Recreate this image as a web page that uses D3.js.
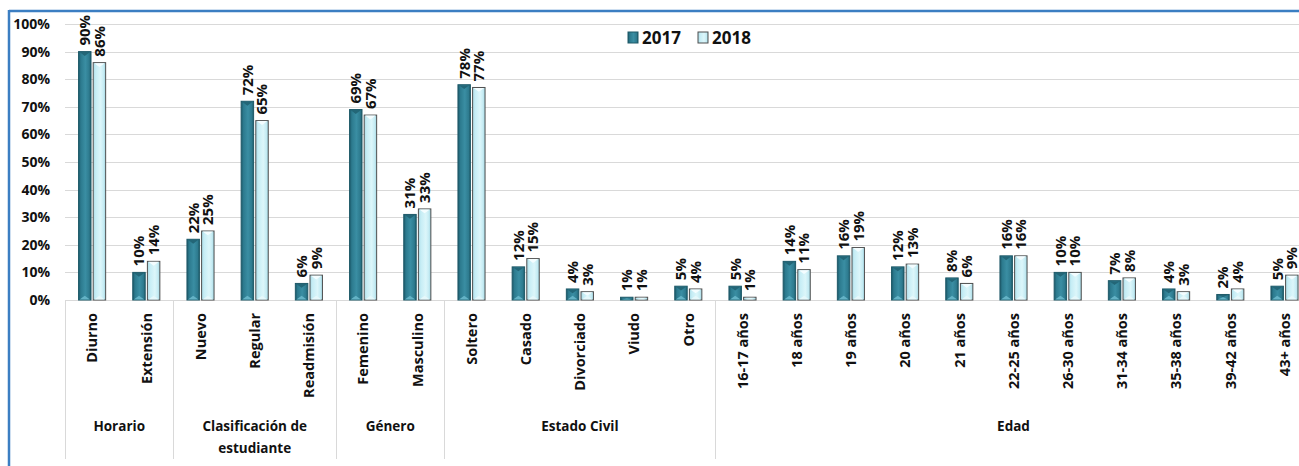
<!DOCTYPE html>
<html lang="es">
<head>
    <meta charset="UTF-8">
    <title>Estudiantes 2017 - 2018</title>
    <script src="https://cdn.jsdelivr.net/npm/d3@7"></script>
    <style>
        body {
            margin: 0;
            padding: 0;
            background: #ffffff;
        }
        text {
            font-family: "Open Sans", sans-serif;
            font-weight: bold;
            fill: #111;
        }
    </style>
</head>
<body>
<svg width="1299" height="466" id="mainsvg"></svg>
<script>
    // categorias y grupos
    const categories = ["Diurno", "Extensión", "Nuevo", "Regular", "Readmisión", "Femenino", "Masculino",
        "Soltero", "Casado", "Divorciado", "Viudo", "Otro",
        "16-17 años", "18 años", "19 años", "20 años", "21 años", "22-25 años", "26-30 años",
        "31-34 años", "35-38 años", "39-42 años", "43+ años"];
    const categoryGroup = [0, 0, 1, 1, 1, 2, 2, 3, 3, 3, 3, 3, 4, 4, 4, 4, 4, 4, 4, 4, 4, 4, 4];
    const groupLabels = ["Horario", "Clasificación de\nestudiante", "Género", "Estado Civil", "Edad"];
    const years = ["2017", "2018"];
    const values2017 = [0.90, 0.10, 0.22, 0.72, 0.06, 0.69, 0.31, 0.78, 0.12, 0.04, 0.01, 0.05,
        0.05, 0.14, 0.16, 0.12, 0.08, 0.16, 0.10, 0.07, 0.04, 0.02, 0.05];
    const values2018 = [0.86, 0.14, 0.25, 0.65, 0.09, 0.67, 0.33, 0.77, 0.15, 0.03, 0.01, 0.04,
        0.01, 0.11, 0.19, 0.13, 0.06, 0.16, 0.10, 0.08, 0.03, 0.04, 0.09];
    const yTicks = [0, 0.1, 0.2, 0.3, 0.4, 0.5, 0.6, 0.7, 0.8, 0.9, 1.0];

    const svg = d3.select("#mainsvg");
    const W = 1299, H = 466;
    const plotLeft = 65, plotRight = 1311.6, plotTop = 24, plotBottom = 300;
    const pct = d3.format(".0%");

    let rows = categories.map((c, i) => ({cat: c, group: categoryGroup[i], v: [values2017[i], values2018[i]]}));

    let x0 = d3.scaleBand().domain(categories).range([plotLeft, plotRight]).paddingInner(0.5).paddingOuter(0.25);
    let x1 = d3.scaleBand().domain(years).range([0, x0.bandwidth()]).paddingInner(0.15);
    let y = d3.scaleLinear().domain([0, 1]).range([plotBottom, plotTop]);

    // gradients
    let defs = svg.append("defs");
    let g1 = defs.append("linearGradient").attr("id", "grad2017").attr("x1", 0).attr("x2", 1).attr("y1", 0).attr("y2", 0);
    [["0%", "#1b5868"], ["18%", "#2c7a8e"], ["55%", "#3a8ea3"], ["85%", "#2e7b8f"], ["100%", "#1d5b6b"]]
        .forEach(s => g1.append("stop").attr("offset", s[0]).attr("stop-color", s[1]));
    let g2 = defs.append("linearGradient").attr("id", "grad2018").attr("x1", 0).attr("x2", 1).attr("y1", 0).attr("y2", 0);
    [["0%", "#a9dbe7"], ["20%", "#c6edf5"], ["60%", "#dcf6fa"], ["85%", "#c4ebf3"], ["100%", "#9fd3df"]]
        .forEach(s => g2.append("stop").attr("offset", s[0]).attr("stop-color", s[1]));

    // frame
    svg.append("line").attr("x1", 9).attr("x2", W).attr("y1", 11).attr("y2", 11)
        .attr("stroke", "#3b7ec2").attr("stroke-width", 2.5);
    svg.append("line").attr("x1", 9).attr("x2", 9).attr("y1", 10).attr("y2", H)
        .attr("stroke", "#3b7ec2").attr("stroke-width", 2.5);

    // grid
    svg.append("g").selectAll("line").data(yTicks).join("line")
        .attr("x1", plotLeft).attr("x2", W)
        .attr("y1", d => Math.round(y(d)) + 0.5).attr("y2", d => Math.round(y(d)) + 0.5)
        .attr("stroke", "#d9d9d9").attr("stroke-width", 1);

    svg.append("g").selectAll("text").data(yTicks).join("text")
        .attr("x", 50).attr("y", d => y(d)).attr("dy", "0.36em")
        .attr("text-anchor", "end").attr("font-size", "14px")
        .text(d => pct(d));

    // group separators and labels
    let step = x0.step();
    let groupIdx = d3.range(groupLabels.length);
    let groupStart = groupIdx.map(g => categoryGroup.indexOf(g));
    let groupEnd = groupIdx.map(g => categoryGroup.lastIndexOf(g) + 1);
    let edges = groupStart.concat([categories.length]);
    svg.append("g").selectAll("line").data(edges).join("line")
        .attr("x1", i => Math.round(plotLeft + i * step) + 0.5).attr("x2", i => Math.round(plotLeft + i * step) + 0.5)
        .attr("y1", plotBottom).attr("y2", 459)
        .attr("stroke", "#d9d9d9");

    let gl = svg.append("g").selectAll("text").data(groupIdx).join("text")
        .attr("text-anchor", "middle").attr("font-size", "13.5px")
        .attr("transform", g => "translate(" + (plotLeft + (groupStart[g] + groupEnd[g]) / 2 * step) + ",431)");
    gl.selectAll("tspan").data(g => groupLabels[g].split("\n")).join("tspan")
        .attr("x", 0).attr("dy", (d, i) => i === 0 ? 0 : 22)
        .text(d => d);

    // category labels
    svg.append("g").selectAll("text").data(categories).join("text")
        .attr("transform", d => "translate(" + (x0(d) + x0.bandwidth() / 2) + ",313) rotate(-90)")
        .attr("text-anchor", "end").attr("dy", "0.36em").attr("font-size", "14.5px")
        .text(d => d);

    // bars
    let bars = svg.append("g").selectAll("g").data(rows).join("g")
        .attr("transform", d => "translate(" + x0(d.cat) + ",0)");

    let cells = bars.selectAll("g").data(d => years.map((yr, k) => ({year: yr, k: k, v: d.v[k]}))).join("g");

    cells.append("rect")
        .attr("x", d => x1(d.year))
        .attr("y", d => y(d.v))
        .attr("width", x1.bandwidth())
        .attr("height", d => plotBottom - y(d.v))
        .attr("fill", d => d.k === 0 ? "url(#grad2017)" : "url(#grad2018)")
        .attr("stroke", d => d.k === 0 ? "#1f5a69" : "#4f4f4f")
        .attr("stroke-width", 1);

    // bevel triangles
    cells.append("path")
        .attr("d", d => {
            let bx = x1(d.year), w = x1.bandwidth(), t = y(d.v);
            let h = Math.min(w * 0.35, (plotBottom - t) / 2);
            return "M" + (bx + 1) + "," + (t + 0.5) + "L" + (bx + w - 1) + "," + (t + 0.5) + "L" + (bx + w / 2) + "," + (t + h) + "Z";
        })
        .attr("fill", d => d.k === 0 ? "#236677" : "#f4fdff");
    cells.append("path")
        .attr("d", d => {
            let bx = x1(d.year), w = x1.bandwidth(), t = y(d.v);
            let h = Math.min(w * 0.35, (plotBottom - t) / 2);
            return "M" + (bx + 1) + "," + (plotBottom - 0.5) + "L" + (bx + w - 1) + "," + (plotBottom - 0.5) + "L" + (bx + w / 2) + "," + (plotBottom - h) + "Z";
        })
        .attr("fill", d => d.k === 0 ? "#64b3c6" : "#e6f8fb");

    // value labels
    cells.append("text")
        .attr("transform", d => "translate(" + (x1(d.year) + x1.bandwidth() / 2) + "," + (y(d.v) - 6) + ") rotate(-90)")
        .attr("text-anchor", "start").attr("dy", "0.36em").attr("font-size", "15px")
        .text(d => pct(d.v));

    // legend
    let legend = svg.append("g").selectAll("g").data(years).join("g")
        .attr("transform", (d, i) => "translate(" + (628 + i * 70) + ",32)");
    legend.append("rect").attr("width", 10).attr("height", 11)
        .attr("fill", (d, i) => i === 0 ? "url(#grad2017)" : "url(#grad2018)")
        .attr("stroke", (d, i) => i === 0 ? "#1f5a69" : "#4f4f4f");
    legend.append("text").attr("x", 14).attr("y", 12).attr("font-size", "17px").text(d => d);
</script>
</body>
</html>
